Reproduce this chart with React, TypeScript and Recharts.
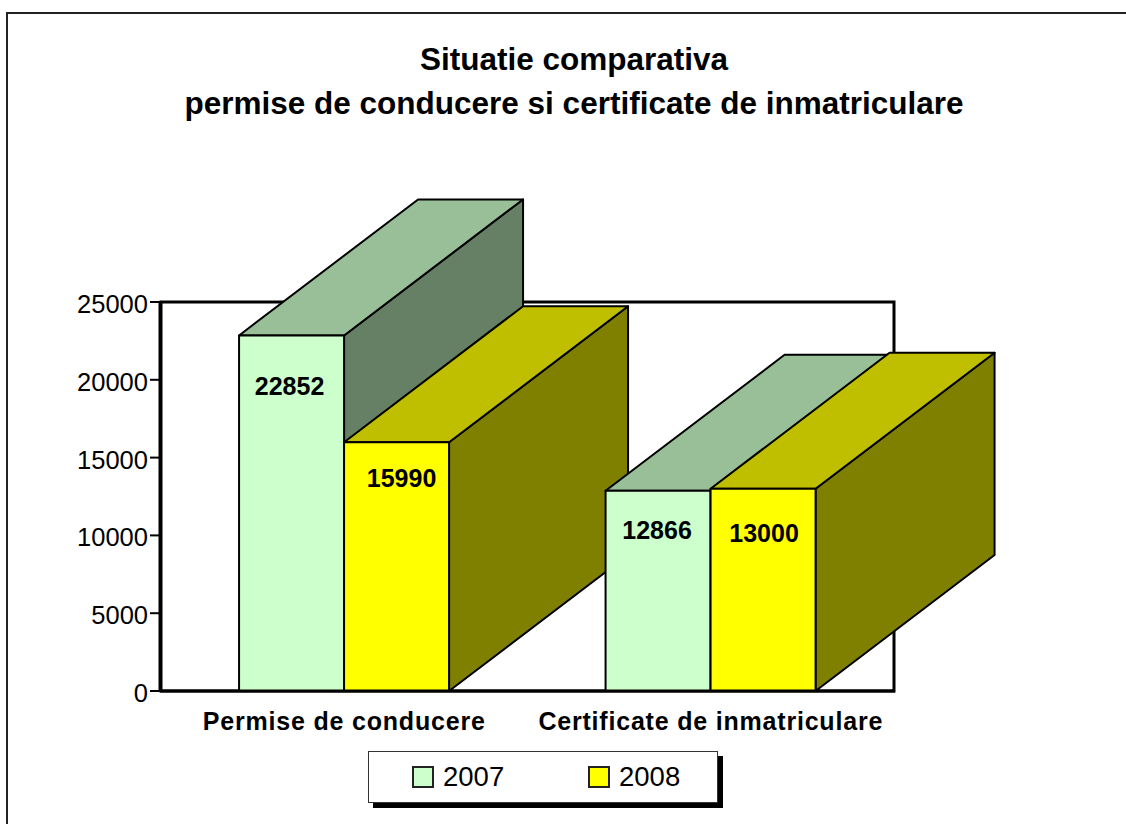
import { Bar, BarChart, LabelList, Legend, ReferenceArea, XAxis, YAxis } from "recharts";

const categories = ["Permise de conducere", "Certificate de inmatriculare"];
const values2007 = [22852, 12866];
const values2008 = [15990, 13000];
const yTicks = [0, 5000, 10000, 15000, 20000, 25000];

// one key per bar, so the depth faces paint in the same order as the original
const data = categories.map((name, i) => ({
  name,
  first2007: i === 0 ? values2007[i] : undefined,
  first2008: i === 0 ? values2008[i] : undefined,
  second2007: i === 1 ? values2007[i] : undefined,
  second2008: i === 1 ? values2008[i] : undefined,
}));

const DEPTH_X = 179;
const DEPTH_Y = 136;
const FONT = "'Liberation Sans', Arial, sans-serif";

const Box3D = (props: any) => {
  const { x, y, width, height, front, top, side } = props;
  if (!height || height <= 0) return null;
  const r = x + width;
  const b = y + height;
  const stroke = { stroke: "#000", strokeWidth: 2, strokeLinejoin: "round" as const };
  return (
    <g>
      <polygon
        points={`${r},${y} ${r + DEPTH_X},${y - DEPTH_Y} ${r + DEPTH_X},${b - DEPTH_Y} ${r},${b}`}
        fill={side}
        {...stroke}
      />
      <polygon
        points={`${x},${y} ${x + DEPTH_X},${y - DEPTH_Y} ${r + DEPTH_X},${y - DEPTH_Y} ${r},${y}`}
        fill={top}
        {...stroke}
      />
      <rect x={x} y={y} width={width} height={height} fill={front} {...stroke} />
    </g>
  );
};

const shape2007 = (p: any) => <Box3D {...p} front="#CCFFCC" top="#99BF99" side="#668066" />;
const shape2008 = (p: any) => <Box3D {...p} front="#FFFF00" top="#BFBF00" side="#808000" />;

const LegendBox = () => (
  <div
    style={{
      position: "relative",
      width: 350,
      height: 52,
      boxSizing: "border-box",
      background: "#fff",
      border: "1.5px solid #333",
      boxShadow: "5px 5px 0 #000",
      fontFamily: FONT,
      fontSize: 27.5,
      color: "#000",
    }}
  >
    {[
      { label: "2007", color: "#CCFFCC", left: 43 },
      { label: "2008", color: "#FFFF00", left: 219 },
    ].map((item) => (
      <div key={item.label} style={{ position: "absolute", left: item.left, top: 0, height: 49, display: "flex", alignItems: "center" }}>
        <span
          style={{
            display: "inline-block",
            width: 18,
            height: 18,
            border: "2px solid #222",
            background: item.color,
            marginRight: 9,
          }}
        />
        <span>{item.label}</span>
      </div>
    ))}
  </div>
);

const labelStyle = { fontFamily: FONT, fontSize: 25, fontWeight: 700, fill: "#000" };

export default function App() {
  return (
    <div style={{ position: "absolute", left: 0, top: 0, width: 1126, height: 824, background: "#fff", overflow: "hidden" }}>
      <div
        style={{
          position: "absolute",
          left: 6,
          top: 12,
          width: 1130,
          height: 830,
          borderLeft: "2px solid #222",
          borderTop: "2px solid #222",
        }}
      />
      <BarChart
        width={1126}
        height={824}
        data={data}
        margin={{ top: 302, right: 231, bottom: 51, left: 0 }}
        barGap={0}
        barCategoryGap="21.3%"
        style={{ position: "absolute", left: 0, top: 0 }}
      >
        <ReferenceArea y1={0} y2={25000} fill="#fff" stroke="#000" strokeWidth={3} ifOverflow="visible" />
        <XAxis
          dataKey="name"
          padding={{ left: 1, right: 1 }}
          tickLine={false}
          axisLine={{ stroke: "#000", strokeWidth: 3 }}
          tick={{ fontFamily: FONT, fontSize: 25, fontWeight: 700, fill: "#000", letterSpacing: 0.8 }}
          tickMargin={15}
          interval={0}
        />
        <YAxis
          domain={[0, 25000]}
          ticks={yTicks}
          width={160}
          tickSize={10}
          tickMargin={2}
          tickLine={{ stroke: "#000", strokeWidth: 2 }}
          axisLine={{ stroke: "#000", strokeWidth: 3 }}
          tick={{ fontFamily: FONT, fontSize: 25.5, fill: "#000", dy: 2 }}
        />
        <Bar dataKey="first2007" name="2007" stackId="a" shape={shape2007} isAnimationActive={false}>
          <LabelList dataKey="first2007" position="insideTop" offset={42} dx={-2} style={labelStyle} />
        </Bar>
        <Bar dataKey="first2008" name="2008" stackId="b" shape={shape2008} isAnimationActive={false}>
          <LabelList dataKey="first2008" position="insideTop" offset={27} dx={5} style={labelStyle} />
        </Bar>
        <Bar dataKey="second2007" name="2007" stackId="a" shape={shape2007} legendType="none" isAnimationActive={false}>
          <LabelList dataKey="second2007" position="insideTop" offset={30} dx={-1} style={labelStyle} />
        </Bar>
        <Bar dataKey="second2008" name="2008" stackId="b" shape={shape2008} legendType="none" isAnimationActive={false}>
          <LabelList dataKey="second2008" position="insideTop" offset={36} dx={1} style={labelStyle} />
        </Bar>
        <Legend content={LegendBox} wrapperStyle={{ left: 368, top: 751, width: 350 }} />
        <text x={574} y={70} textAnchor="middle" fontFamily={FONT} fontSize={31.5} fontWeight={700}>
          Situatie comparativa
        </text>
        <text x={574} y={114} textAnchor="middle" fontFamily={FONT} fontSize={31.5} fontWeight={700}>
          permise de conducere si certificate de inmatriculare
        </text>
      </BarChart>
    </div>
  );
}
